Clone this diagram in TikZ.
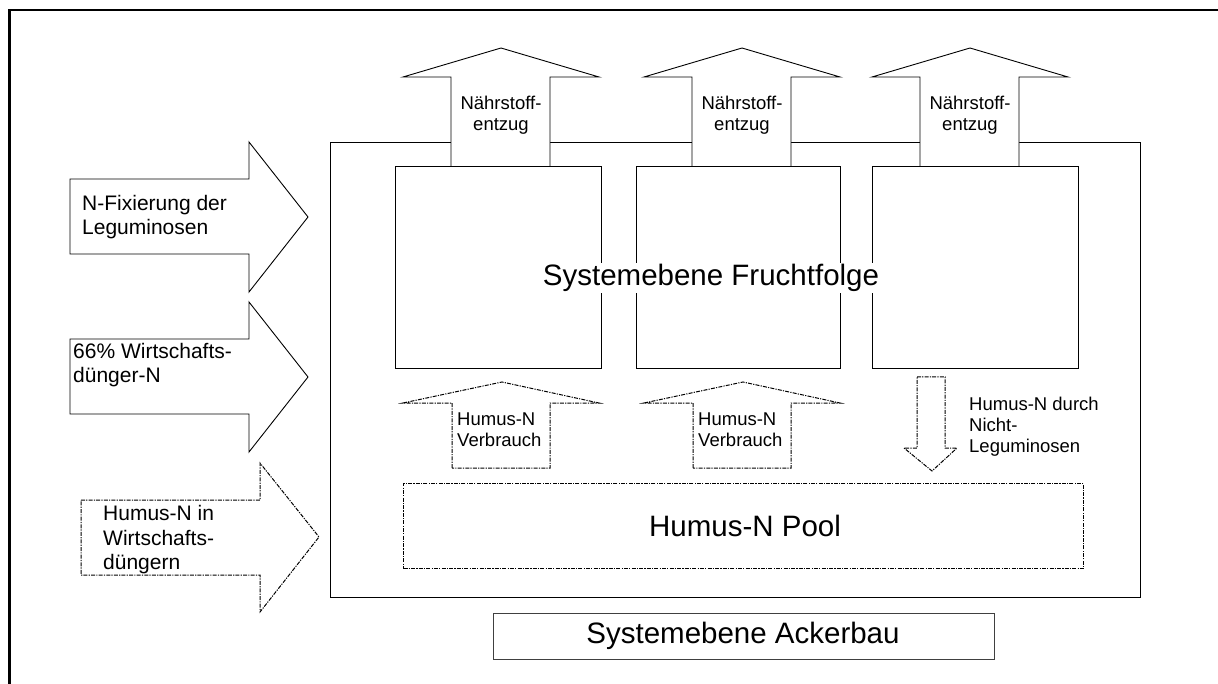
\documentclass[tikz,border=0pt]{standalone}
\usepackage{fontspec}
\setmainfont{Liberation Sans}
\begin{document}
\begin{tikzpicture}[x=1pt,y=-1pt,
  line join=miter,
  solidline/.style={draw=black, line width=0.9pt},
  dotline/.style={draw=black, line width=1pt, dash pattern=on 4pt off 1.2pt on 1.2pt off 1.2pt},
  blockbox/.style={solidline, fill=white, anchor=north west, inner sep=0pt},
  smalltxt/.style={font=\fontsize{18.5}{21}\selectfont, inner sep=0pt},
  midtxt/.style={font=\fontsize{21}{24.5}\selectfont, inner sep=0pt, align=left, anchor=west},
  bigtxt/.style={font=\fontsize{29.5}{34}\selectfont, inner sep=1pt}
]
\useasboundingbox (0,0) rectangle (1218,684);
\fill[white] (0,0) rectangle (1218,684);

% page frame (top and left edges)
\draw[line width=2.6pt] (1218,10) -- (9.5,10) -- (9.5,684);

% crop rotation system (outer box)
\node[blockbox, minimum width=810pt, minimum height=455pt] (acker) at (330,142) {};

% nutrient removal arrows (upwards)
\foreach \dx/\nm in {0/a, 241/b, 469/c}{
  \draw[solidline, fill=white]
    (451+\dx,166) -- (451+\dx,77) -- (403+\dx,77) -- (501+\dx,48)
    -- (599+\dx,77) -- (550+\dx,77) -- (550+\dx,166);
  \node[smalltxt, align=center] (entzug\nm) at (501+\dx,115) {Nährstoff-\\entzug};
}

% three crop boxes
\node[blockbox, minimum width=206pt, minimum height=202pt] (crop1) at (395,166) {};
\node[blockbox, minimum width=204pt, minimum height=202pt] (crop2) at (636,166) {};
\node[blockbox, minimum width=206pt, minimum height=202pt] (crop3) at (872,166) {};
\node[bigtxt, fill=white] (frucht) at (711,278) {Systemebene Fruchtfolge};

% humus pool
\node[dotline, anchor=north west, minimum width=680pt, minimum height=85pt, inner sep=0pt] (pool) at (403,483) {};
\node[bigtxt] (pooltxt) at (745,526) {Humus-N Pool};

% humus consumption arrows (upwards, dash-dotted)
\foreach \dx/\nm in {0/a, 241/b}{
  \draw[dotline]
    (452+\dx,468) -- (452+\dx,403) -- (403+\dx,403) -- (502+\dx,382)
    -- (599+\dx,403) -- (550+\dx,403) -- (550+\dx,468) -- cycle;
  \node[smalltxt, align=left, anchor=west] (verbrauch\nm) at (457+\dx,430) {Humus-N\\Verbrauch};
}

% humus build-up by non-legumes (downwards)
\draw[dotline]
  (917,377) -- (945,377) -- (945,448) -- (957,448) -- (932,471)
  -- (904,448) -- (917,448) -- cycle;
\node[smalltxt, align=left, anchor=west] (nichtleg) at (969,427) {Humus-N durch\\Nicht-\\Leguminosen};

% inputs from the left
\draw[solidline]
  (70,179) -- (249,179) -- (249,142) -- (308,217) -- (249,292) -- (249,254) -- (70,254) -- cycle;
\node[midtxt] (nfix) at (82,217) {N-Fixierung der\\Leguminosen};

\draw[solidline]
  (70,339) -- (249,339) -- (249,302) -- (308,377) -- (249,452) -- (249,414) -- (70,414) -- cycle;
\node[midtxt] (duenger) at (73,365) {66\% Wirtschafts-\\dünger-N};

\draw[dotline]
  (81,500) -- (260,500) -- (260,463) -- (319,537) -- (260,612) -- (260,575) -- (81,575) -- cycle;
\node[midtxt] (humusin) at (103,540) {Humus-N in\\Wirtschafts-\\düngern};

% farm level label
\node[draw=black!75, line width=0.9pt, anchor=north west, minimum width=501pt, minimum height=46pt, inner sep=0pt] (ackerbox) at (493,613) {};
\node[bigtxt] (ackertxt) at (743,636) {Systemebene Ackerbau};
\end{tikzpicture}
\end{document}
